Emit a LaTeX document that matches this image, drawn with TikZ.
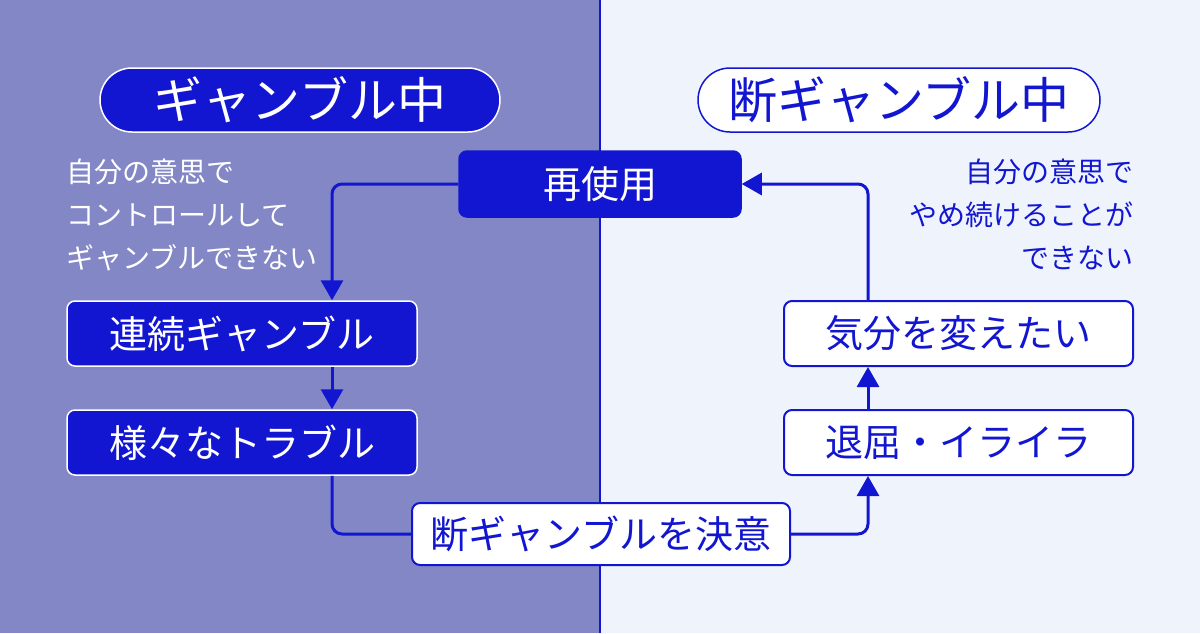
\documentclass[tikz,border=0pt]{standalone}
\usepackage{fontspec}
\setmainfont{Noto Sans CJK JP}
\usetikzlibrary{arrows.meta}
\usetikzlibrary{calc}
\definecolor{deepblue}{RGB}{18,22,208}
\definecolor{leftbg}{RGB}{131,135,198}
\definecolor{rightbg}{RGB}{239,244,252}
\tikzset{>={Triangle[length=20pt,width=22pt]}}
\tikzstyle{darkbox} = [fill=deepblue,draw=white,line width=1.5pt,rounded corners=8pt,text=white,minimum width=350pt,minimum height=65pt,inner sep=0pt,font=\fontsize{38}{44}\selectfont]
\tikzstyle{lightbox} = [fill=white,draw=deepblue,line width=2pt,rounded corners=8pt,text=deepblue,minimum width=349pt,minimum height=65pt,inner sep=0pt,font=\fontsize{38}{44}\selectfont]
\tikzstyle{pill} = [rounded corners=32pt,line width=1.5pt,minimum height=64pt,inner sep=0pt,font=\fontsize{49}{56}\selectfont]
\tikzstyle{link} = [deepblue,line width=3pt,rounded corners=10pt]
\tikzstyle{sidetext} = [inner sep=0pt,font=\fontsize{28}{43}\selectfont]

\begin{document}
\begin{tikzpicture}[x=1pt,y=-1pt]
\useasboundingbox (0,0) rectangle (1200,633);
\fill[leftbg] (0,0) rectangle (600,633);
\fill[rightbg] (600,0) rectangle (1200,633);
\draw[deepblue,line width=2pt] (600,0) -- (600,633);
% titles
\node[pill,fill=deepblue,draw=white,text=white,minimum width=400pt] (gamble) at (300,100) {ギャンブル中};
\node[pill,fill=white,draw=deepblue,text=deepblue,minimum width=402pt] (quit) at (899,100) {断ギャンブル中};
% side notes
\node[sidetext,text=white,align=left,anchor=north west] (noteL) at (66,159)
 {自分の意思で\\コントロールして\\ギャンブルできない};
\node[sidetext,text=deepblue,align=right,anchor=north east] (noteR) at (1134,159)
 {自分の意思で\\やめ続けることが\\できない};
% boxes
\node[darkbox,draw=deepblue,minimum width=282pt,minimum height=66pt] (reuse) at (600,184) {再使用};
\node[darkbox] (binge) at (242,333.5) {連続ギャンブル};
\node[darkbox] (trouble) at (242,442.5) {様々なトラブル};
\node[lightbox,minimum width=378pt,minimum height=62pt] (decide) at (601,534) {断ギャンブルを決意};
\node[lightbox] (mood) at (958.5,333.5) {気分を変えたい};
\node[lightbox] (bored) at (958.5,442.5) {退屈・イライラ};
\coordinate (lx) at (332,0);
\coordinate (rx) at (868,0);
% connectors
\draw[link,->] (reuse.west) -| (lx |- binge.north);
\draw[link,->] (lx |- binge.south) -- (lx |- trouble.north);
\draw[link] (lx |- trouble.south) |- (decide.west);
\draw[link,->] (decide.east) -| (rx |- bored.south);
\draw[link,->] (rx |- bored.north) -- (rx |- mood.south);
\draw[link,->] (rx |- mood.north) |- (reuse.east);
\end{tikzpicture}
\end{document}
